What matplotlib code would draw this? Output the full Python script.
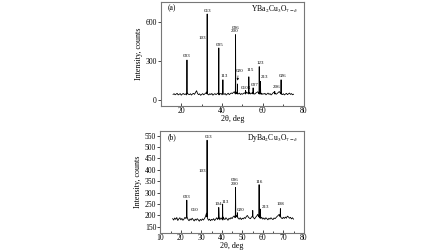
import numpy as np
import matplotlib
matplotlib.use("Agg")
import matplotlib.pyplot as plt
from matplotlib.ticker import MultipleLocator

plt.rcParams['font.family'] = ['Liberation Serif', 'DejaVu Serif']
plt.rcParams['mathtext.fontset'] = 'stix'

# --- data: grid of the baseline scan (2theta, deg) ---
scan_start, scan_step = 16.0, 0.5

# YBa2Cu3O7-d, background counts
ybco_base = [40, 45, 37, 43, 48, 36, 41, 46, 34, 42,
             47, 39, 44, 36, 49, 41, 38, 45, 35, 43,
             48, 40, 55, 68, 46, 38, 44, 33, 40, 46,
             37, 43, 50, 58, 42, 36, 45, 39, 47, 34,
             41, 46, 38, 44, 50, 36, 43, 48, 37, 45,
             40, 47, 35, 42, 49, 38, 44, 51, 46, 55,
             60, 52, 58, 48, 44, 50, 39, 46, 41, 48,
             52, 45, 58, 50, 47, 54, 43, 49, 56, 46,
             42, 50, 55, 60, 48, 44, 51, 39, 46, 42,
             48, 37, 44, 50, 40, 46, 36, 43, 52, 58,
             48, 41, 47, 55, 62, 50, 43, 38, 45, 36,
             42, 48, 38, 44, 50, 40, 46, 37, 41]
ybco_peak_pos = [22.8, 32.7, 38.4, 40.4, 46.6, 47.5, 51.5, 53.1, 55.2, 58.2, 58.8, 65.8, 68.9]
ybco_peak_int = [304, 658, 397, 152, 499, 120, 70, 175, 90, 253, 140, 62, 152]
ybco_labels = ['003', '013', '103', '005', '113', '006\n200', '020', '0104',
               '115', '007', '123', '213', '206', '026']
ybco_label_x = [22.8, 33.1, 30.4, 38.9, 40.9, 46.4, 48.8, 51.6, 53.7, 55.7, 58.6, 60.8, 66.9, 69.8]
ybco_label_y = [334, 684, 473, 423, 182, 538, 220, 89, 228, 114, 283, 170, 96, 182]

# DyBa2Cu3O7-d, background counts
dy_base = [186, 180, 189, 183, 191, 178, 185, 190, 181, 187,
           179, 184, 192, 186, 196, 182, 177, 185, 180, 188,
           182, 176, 184, 179, 186, 181, 175, 183, 178, 185,
           180, 186, 195, 210, 188, 179, 184, 177, 183, 180,
           186, 178, 184, 190, 182, 187, 181, 189, 184, 180,
           187, 182, 190, 185, 179, 188, 184, 191, 186, 194,
           198, 190, 200, 193, 187, 184, 190, 182, 188, 185,
           191, 187, 196, 200, 192, 188, 186, 194, 198, 190,
           185, 192, 197, 205, 194, 189, 186, 192, 184, 189,
           183, 190, 186, 181, 188, 184, 190, 185, 182, 189,
           186, 191, 196, 200, 205, 198, 190, 186, 192, 187,
           193, 188, 197, 194, 188, 192, 185, 190, 184]
dy_peak_pos = [22.9, 32.8, 38.5, 40.4, 46.7, 47.6, 55.1, 58.2, 58.8, 68.6]
dy_peak_int = [267, 530, 235, 250, 323, 212, 222, 335, 228, 230]
dy_labels = ['003', '010', '013', '103', '104', '113', '006\n200', '020', '116', '213', '108']
dy_label_x = [23.0, 26.5, 33.3, 30.6, 38.2, 41.7, 46.4, 49.2, 58.3, 61.5, 68.5]
dy_label_y = [283, 224, 543, 393, 250, 261, 347, 223, 347, 239, 250]


def build_profile(base, pos, inten):
    x = list(scan_start + scan_step * np.arange(len(base)))
    y = list(base)
    for p, h in zip(pos, inten):
        b = np.interp(p, x, y)
        x += [p - 0.12, p, p + 0.12]
        y += [b, h, b]
    order = np.argsort(x, kind='stable')
    return np.array(x)[order], np.array(y)[order]


def draw_panel(ax, base, pos, inten, labels, lx, ly, tag, formula, ylim, yticks, xmajor):
    x, y = build_profile(base, pos, inten)
    ax.plot(x, y, color='black', lw=0.6)
    for t, tx, ty in zip(labels, lx, ly):
        ax.text(tx, ty, t, fontsize=3.6, ha='center', va='center', linespacing=0.9)
    ax.text(0.05, 0.94, tag, transform=ax.transAxes, fontsize=5.5, va='center')
    ax.text(0.96, 0.93, formula, transform=ax.transAxes, fontsize=5.5, ha='right', va='center')
    ax.set_xlim(10, 80)
    ax.set_ylim(*ylim)
    ax.set_yticks(yticks)
    ax.xaxis.set_major_locator(MultipleLocator(xmajor))
    ax.xaxis.set_minor_locator(MultipleLocator(xmajor / 2))
    ax.tick_params(axis='x', direction='in', length=2, width=0.5, labelsize=5.5, pad=1)
    ax.tick_params(axis='x', which='minor', direction='in', length=1.2, width=0.5)
    ax.tick_params(axis='y', direction='out', length=2, width=0.5, labelsize=5.5, pad=1)
    ax.set_xlabel('2θ, deg', fontsize=5.8, labelpad=0)
    ax.set_ylabel('Intensity, counts', fontsize=5.8, labelpad=2)
    for s in ax.spines.values():
        s.set_color('#777777')
        s.set_linewidth(0.8)


fig = plt.figure(figsize=(4.48, 2.52), dpi=100)
ax1 = fig.add_axes([0.359, 0.579, 0.319, 0.413])
ax2 = fig.add_axes([0.358, 0.077, 0.320, 0.403])

draw_panel(ax1, ybco_base, ybco_peak_pos, ybco_peak_int, ybco_labels, ybco_label_x, ybco_label_y,
           '(a)', r'YBa$_2$Cu$_3$O$_{7-\delta}$', (-50, 750), [0, 300, 600], 20)
ax1.annotate('', xy=(47.5, 125), xytext=(47.9, 205),
             arrowprops=dict(arrowstyle='-|>', lw=0.4, color='black', mutation_scale=3))

draw_panel(ax2, dy_base, dy_peak_pos, dy_peak_int, dy_labels, dy_label_x, dy_label_y,
           '(b)', r'DyBa$_2$Cu$_3$O$_{7-\delta}$', (125, 570), list(range(150, 551, 50)), 10)

fig.savefig('out.png', dpi=100)
